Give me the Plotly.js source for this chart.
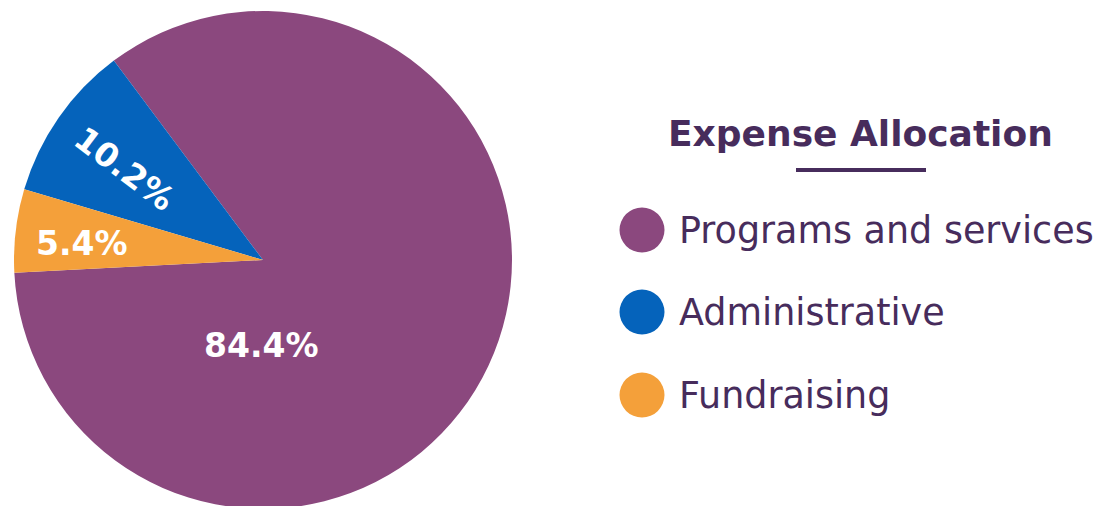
<!DOCTYPE html>
<html>
<head>
<meta charset="utf-8">
<script src="https://cdn.plot.ly/plotly-3.0.1.min.js"></script>
<style>
html,body{margin:0;padding:0;overflow:hidden;background:#fff;}
#chart{width:1101px;height:520px;}
</style>
</head>
<body>
<div id="chart"></div>
<script>
const categories = ["Programs and services", "Administrative", "Fundraising"];
const values = [84.4, 10.2, 5.4];
const colors = ["#8b487e", "#0563bb", "#f4a03a"];
const chartTitle = "Expense Allocation";

const W = 1101, H = 520;
const TEXT = "#472c5c";
const FONT = "DejaVu Sans, Open Sans, sans-serif";
const px = x => x / W;
const py = y => 1 - y / H;

// pie geometry (pixels)
const cx = 263, cy = 260, R = 249;

const trace = {
  type: "pie",
  labels: categories,
  values: values,
  sort: false,
  direction: "counterclockwise",
  rotation: 323.2,
  marker: {colors: colors, line: {width: 0}},
  textinfo: "none",
  hoverinfo: "none",
  showlegend: false,
  domain: {x: [px(cx - R), px(cx + R)], y: [py(cy + R), py(cy - R)]}
};

// slice labels (text from values)
const labelPos = [
  {x: 261, y: 345, a: 0},
  {x: 124, y: 169, a: 37},
  {x: 82, y: 243, a: 0}
];
const annotations = values.map((v, i) => ({
  xref: "paper", yref: "paper",
  x: px(labelPos[i].x), y: py(labelPos[i].y),
  xanchor: "center", yanchor: "middle",
  text: "<b>" + v.toFixed(1) + "%</b>",
  textangle: labelPos[i].a,
  showarrow: false,
  font: {family: FONT, size: 33, color: "#ffffff"}
}));

// custom legend
annotations.push({
  xref: "paper", yref: "paper",
  x: px(860), y: py(133), xanchor: "center", yanchor: "middle",
  text: "<b>" + chartTitle + "</b>", showarrow: false,
  font: {family: FONT, size: 36, color: TEXT}
});
const legendY = [230, 312, 395];
const shapes = [{
  type: "line", xref: "paper", yref: "paper",
  x0: px(796), x1: px(926), y0: py(170), y1: py(170),
  line: {color: TEXT, width: 4}
}];
categories.forEach((c, i) => {
  shapes.push({
    type: "circle", xref: "paper", yref: "paper",
    x0: px(642 - 22.5), x1: px(642 + 22.5),
    y0: py(legendY[i] + 22.5), y1: py(legendY[i] - 22.5),
    fillcolor: colors[i], line: {width: 0}
  });
  annotations.push({
    xref: "paper", yref: "paper",
    x: px(677), y: py(legendY[i]), xanchor: "left", yanchor: "middle",
    text: c, showarrow: false,
    font: {family: FONT, size: 36.5, color: TEXT}
  });
});

const layout = {
  width: W, height: H,
  margin: {l: 0, r: 0, t: 0, b: 0},
  paper_bgcolor: "#ffffff",
  showlegend: false,
  annotations: annotations,
  shapes: shapes
};

Plotly.newPlot("chart", [trace], layout, {displayModeBar: false, staticPlot: true});
</script>
</body>
</html>
